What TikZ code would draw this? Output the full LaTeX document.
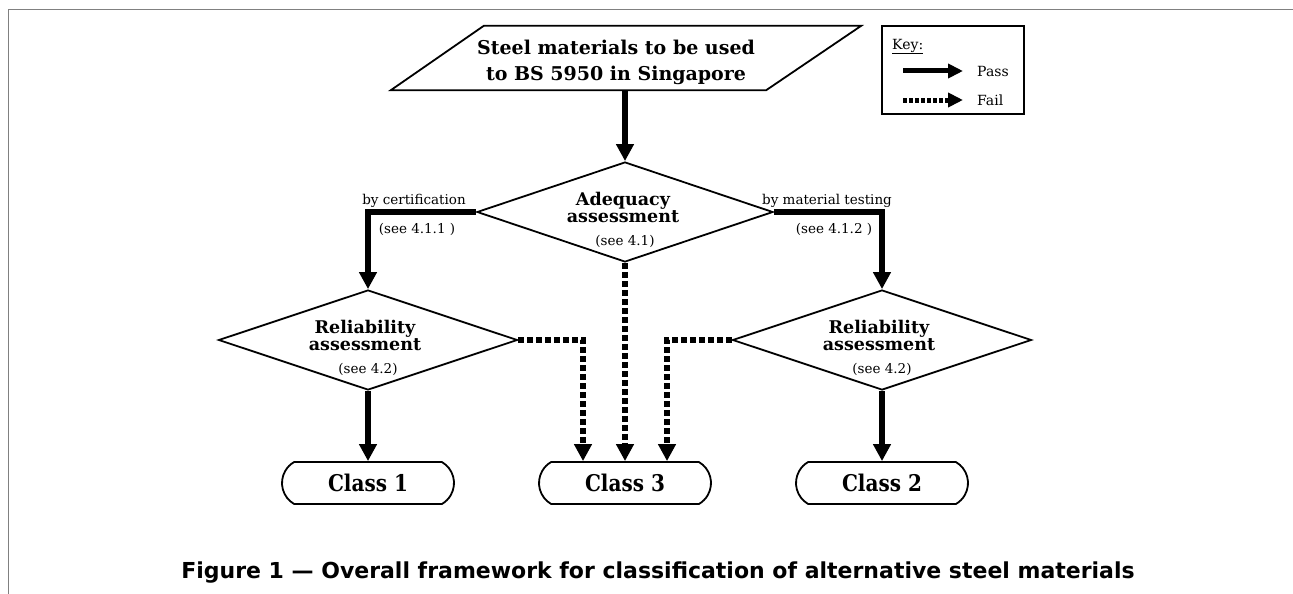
\documentclass[tikz,border=0pt]{standalone}
\usepackage{fontspec}
\setmainfont{DejaVu Serif}
\newfontfamily\capfont{DejaVu Sans}
\usetikzlibrary{arrows.meta,shapes.geometric,shapes.misc,calc}
\begin{document}
\begin{tikzpicture}[x=1pt,y=-1pt,
  outline/.style={draw=black, line width=1.8pt},
  passline/.style={line width=6pt, line join=miter, -{Triangle[length=17pt,width=17pt]}},
  failline/.style={line width=6pt, line join=miter, dash pattern=on 6pt off 3pt, -{Triangle[length=17pt,width=17pt]}},
  keypass/.style={line width=5pt, -{Triangle[length=15pt,width=14pt]}},
  keyfail/.style={line width=5pt, dash pattern=on 4pt off 2pt, -{Triangle[length=15pt,width=14pt]}},
  decision/.style={diamond, outline, inner sep=0pt, minimum height=100pt},
  terminal/.style={rounded rectangle, rounded rectangle arc length=120, outline, minimum width=172pt, minimum height=42pt, inner sep=0pt, font=\bfseries\fontsize{23}{26}\selectfont},
  titletext/.style={anchor=base, inner sep=0pt, font=\bfseries\fontsize{17.5}{17}\selectfont},
  seetext/.style={anchor=base, inner sep=0pt, font=\fontsize{13.5}{15}\selectfont},
  paratext/.style={anchor=base, inner sep=0pt, font=\bfseries\fontsize{19}{26}\selectfont},
  keytext/.style={anchor=base west, inner sep=0pt, font=\fontsize{14}{15}\selectfont}
]
\useasboundingbox (0,0) rectangle (1293,594);
% frame
\draw[gray, line width=1pt] (1293,10) -- (8,10) -- (8,594);

% input parallelogram
\node[minimum width=470pt, minimum height=64pt, inner sep=0pt] (para) at (626,58) {};
\draw[outline, line join=miter] (para.south west) -- ($(para.north west)+(93,0)$) -- (para.north east) -- ($(para.south east)+(-95,0)$) -- cycle;
\node[paratext] (pt1) at (616,55) {Steel materials to be used};
\node[paratext] (pt2) at (616,81) {to BS 5950 in Singapore};

% key
\node[outline, minimum width=142pt, minimum height=88pt, inner sep=0pt] (key) at (953,70) {};
\node[keytext] (keyt) at (892,49) {\underline{Key:}};
\coordinate (kp1) at (903,71);
\coordinate (kp2) at (963,71);
\coordinate (kf1) at (903,100);
\coordinate (kf2) at (963,100);
\draw[keypass] (kp1) -- (kp2);
\draw[keyfail] (kf1) -- (kf2);
\node[keytext] (pass) at (977,77) {Pass};
\node[keytext] (fail) at (977,105) {Fail};

% decisions
\node[decision, minimum width=296pt] (adeq) at (625,212) {};
\node[titletext] (adeq1) at (623,205) {Adequacy};
\node[titletext] (adeq2) at (623,222) {assessment};
\node[seetext] (adeq3) at (625,245) {(see 4.1)};

\node[decision, minimum width=299pt] (rel1) at (368,340) {};
\node[titletext] (rel1a) at (365,333) {Reliability};
\node[titletext] (rel1b) at (365,350) {assessment};
\node[seetext] (rel1c) at (368,373) {(see 4.2)};

\node[decision, minimum width=299pt] (rel2) at (882,340) {};
\node[titletext] (rel2a) at (879,333) {Reliability};
\node[titletext] (rel2b) at (879,350) {assessment};
\node[seetext] (rel2c) at (882,373) {(see 4.2)};

% terminals
\node[terminal] (c1) at (368,483) {\scalebox{0.87}[1]{Class 1}};
\node[terminal] (c3) at (625,483) {\scalebox{0.87}[1]{Class 3}};
\node[terminal] (c2) at (882,483) {\scalebox{0.87}[1]{Class 2}};

% branch labels
\node[seetext] (lcert) at (414,204) {by certification};
\node[seetext] (lcerts) at (417,233) {(see 4.1.1 )};
\node[seetext] (ltest) at (827,204) {by material testing};
\node[seetext] (ltests) at (834,233) {(see 4.1.2 )};

% connectors
\draw[passline] (para.south -| adeq.north) -- (adeq.north);
\draw[passline] (adeq.west) -| (rel1.north);
\draw[passline] (adeq.east) -| (rel2.north);
\draw[passline] (rel1.south) -- (c1.north);
\draw[passline] (rel2.south) -- (c2.north);
\draw[failline] (adeq.south) -- (c3.north);
\draw[failline] (rel1.east) -| ($(c3.north)+(-42,0)$);
\draw[failline] (rel2.west) -| ($(c3.north)+(42,0)$);

% caption
\node[anchor=base, inner sep=0pt, font=\capfont\bfseries\fontsize{22}{26}\selectfont] (cap) at (658,578) {Figure 1 — Overall framework for classification of alternative steel materials};
\end{tikzpicture}
\end{document}
